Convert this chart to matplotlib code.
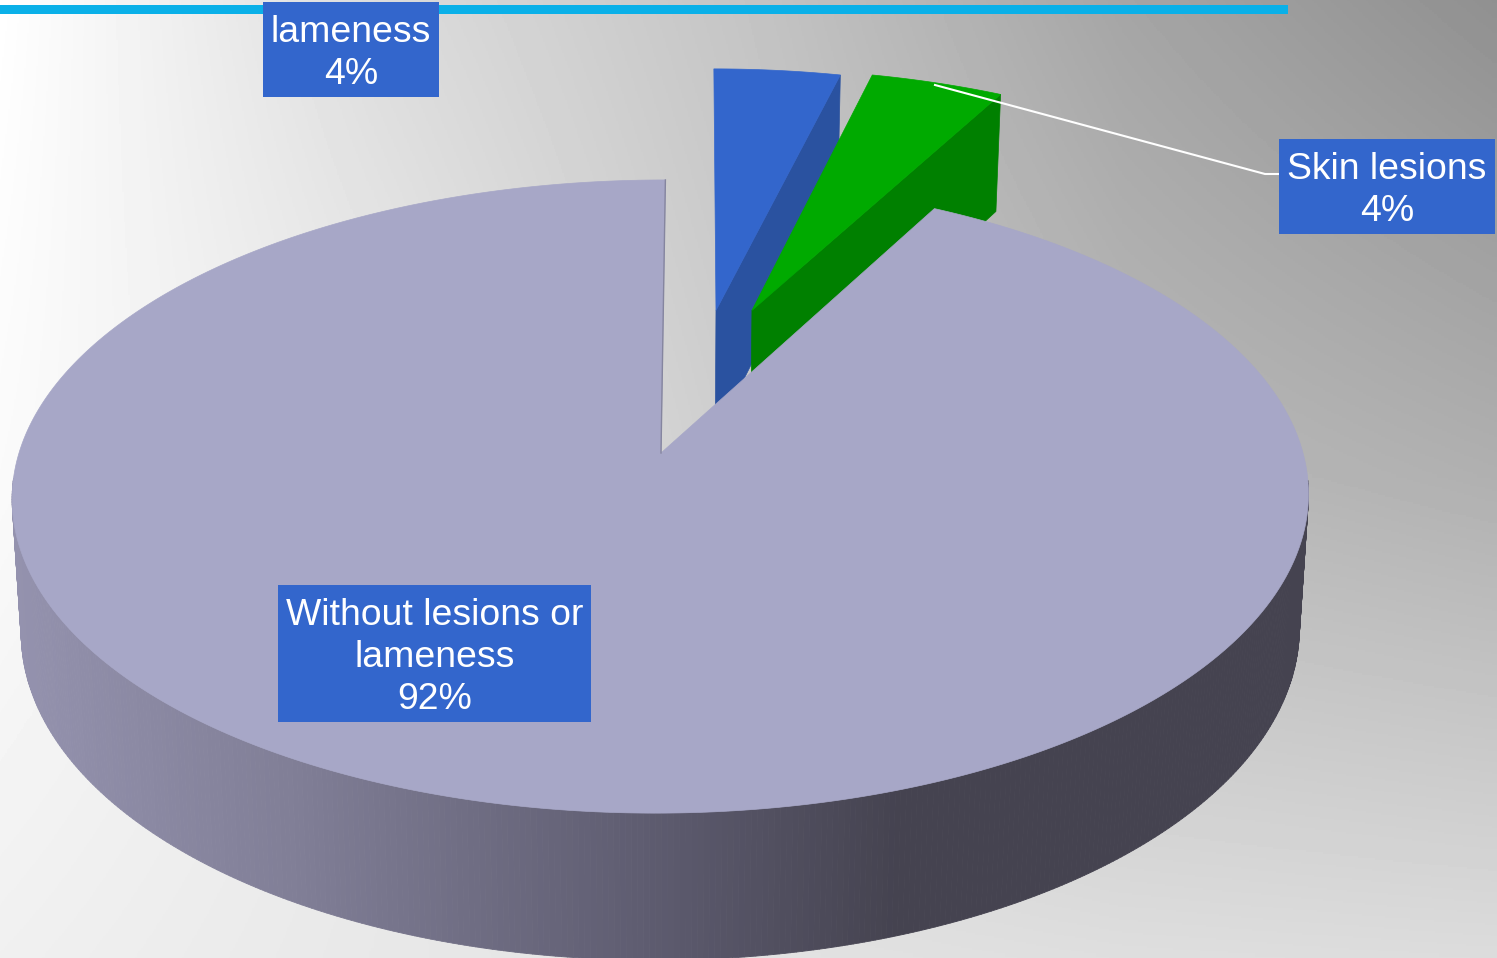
import numpy as np
import matplotlib
matplotlib.use('Agg')
from matplotlib import pyplot as plt
from matplotlib.collections import PolyCollection
from matplotlib.patches import Polygon, Rectangle

# chart values, clockwise from twelve o'clock
label_names = ['lameness', 'Skin lesions', 'Without lesions or\nlameness']
shares = [3.8, 4.0, 92.2]

top_colors = ['#3366cc', '#00aa00', '#a7a7c7']
cut_colors = ['#2a52a0', '#008000', '#a7a7c7']
# how far each slice is pulled out of the pie (pie units)
explode = [(0.0876, 0.49), (0.1474, 0.49), (0.0, 0.0)]
label_boxes = [(263, 2, 439, 97), (1279, 139, 1495, 234), (278, 585, 591, 722)]

W, H = 1497, 958
K = 0.1375  # perspective
SKEW = 5


def project(x, y, bottom=False):
    d = 1 + K * y
    if bottom:
        return 661 + (633 * x + SKEW * y) / d, 585 - 323.6 * y / d
    return 661 + (642 * x + SKEW * y) / d, 453 - 310.6 * y / d


def rim(a0, a1, off, bottom=False, n=300):
    t = np.radians(np.linspace(a0, a1, n))
    return project(off[0] + np.sin(t), off[1] + np.cos(t), bottom)


fig = plt.figure(figsize=(W / 100, H / 100), dpi=100)
ax = fig.add_axes([0, 0, 1, 1])

# background, grid nodes sit on the picture edges
bg = np.array([[255, 220, 196, 165, 144],
               [250, 235, 205, 185, 176],
               [240, 232, 226, 222, 220]], dtype=float)
ax.imshow(bg, cmap='gray', vmin=0, vmax=255, extent=(-W / 8, W + W / 8, H + H / 4, -H / 4),
          interpolation='bilinear', aspect='auto', zorder=0)
ax.set_xlim(0, W)
ax.set_ylim(H, 0)
ax.axis('off')

ax.add_patch(Rectangle((0, 5), 1288, 9, color='#0ab0e8', lw=0, zorder=1))

# the two small slices, then the big one on top of them
angles = np.concatenate([[0], np.cumsum(shares) / np.sum(shares) * 360])
for i in range(2):
    a0, a1 = angles[i], angles[i + 1]
    off = explode[i]
    ax_, ay_ = project(off[0], off[1])
    bx_, by_ = project(off[0], off[1], True)
    ex, ey = rim(a1, a1, off, n=1)
    fx, fy = rim(a1, a1, off, True, n=1)
    ax.add_patch(Polygon([(ax_, ay_), (ex[0], ey[0]), (fx[0], fy[0]), (bx_, by_)],
                         fc=cut_colors[i], ec=cut_colors[i], lw=0.5, zorder=2 + i))
    rx, ry = rim(a0, a1, off)
    ax.add_patch(Polygon(np.r_[[[ax_, ay_]], np.c_[rx, ry]],
                         fc=top_colors[i], ec=top_colors[i], lw=0.5, zorder=2 + i))

a0, a1 = angles[2], angles[3]
off = explode[2]
tx, ty = rim(a0, a1, off, n=720)
bx, by = rim(a0, a1, off, True, n=720)
# only the front of the rim shows, the back is behind the top face
front = [j for j in range(len(tx) - 1) if ty[j] > 480]
quads = [[(tx[j], ty[j]), (tx[j + 1], ty[j + 1]), (bx[j + 1], by[j + 1]), (bx[j], by[j])]
         for j in front]
mids = tx[front]
shade_x = [0, 300, 650, 900, 1400]
shade = np.c_[np.interp(mids, shade_x, [0x95, 0x80, 0x5e, 0x45, 0x45]),
              np.interp(mids, shade_x, [0x93, 0x7e, 0x5c, 0x43, 0x43]),
              np.interp(mids, shade_x, [0xaf, 0x96, 0x70, 0x50, 0x50])] / 255
ax.add_collection(PolyCollection(quads, facecolors=shade, edgecolors=shade, linewidths=0.6, zorder=4))
ox, oy = project(off[0], off[1])
ax.add_patch(Polygon(np.r_[[[ox, oy]], np.c_[tx, ty]], fc=top_colors[2], ec=top_colors[2], lw=0.5, zorder=5))
ax.plot([tx[-1], ox], [ty[-1], oy], color='#85859f', lw=1, zorder=5)

# leader line for the skin lesions label
ax.plot([935, 1265, 1279], [85, 174, 174], color='white', lw=1.5, zorder=6)

# data labels
for name, share, box in zip(label_names, shares, label_boxes):
    ax.add_patch(Rectangle((box[0], box[1]), box[2] - box[0], box[3] - box[1], color='#3366cc', lw=0, zorder=7))
    ax.text((box[0] + box[2]) / 2, (box[1] + box[3]) / 2 + 4, '%s\n%d%%' % (name, round(share)),
            color='white', fontsize=26.9, family='Liberation Sans', ha='center', va='center',
            linespacing=1.26, zorder=8)

fig.savefig('out.png', dpi=100)
